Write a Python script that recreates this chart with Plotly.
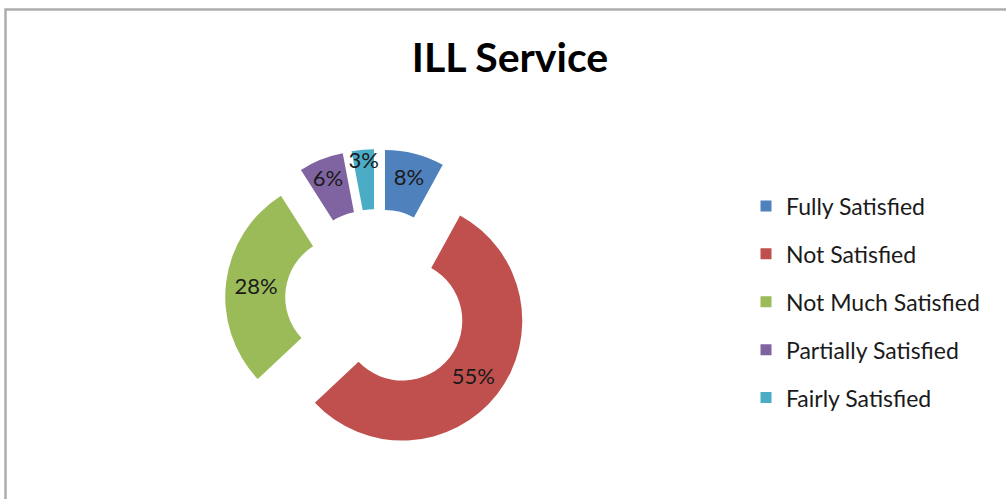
import plotly.graph_objects as go

categories = ["Fully Satisfied", "Not Satisfied", "Not Much Satisfied", "Partially Satisfied", "Fairly Satisfied"]
values = [8, 55, 28, 6, 3]
colors = ["#4F81BD", "#C0504D", "#9BBB59", "#8064A2", "#4BACC6"]
title_text = "ILL Service"

W, H = 1006, 499
FONT = "Lato, 'Open Sans', sans-serif"

fig = go.Figure()

fig.add_trace(go.Pie(
    labels=categories,
    values=values,
    marker=dict(colors=colors, line=dict(width=0)),
    hole=0.5,
    pull=[0.267] * len(values),
    sort=False,
    direction="clockwise",
    rotation=0,
    texttemplate="%{percent:.0%}",
    textposition="inside",
    insidetextorientation="horizontal",
    textfont=dict(family=FONT, size=22, color="#1a1a1a"),
    domain=dict(x=[225 / W, 529 / W], y=[46 / H, 350 / H]),
    showlegend=False,
    hoverinfo="label+percent",
))

for i, (name, col) in enumerate(zip(categories, colors)):
    fig.add_trace(go.Scatter(
        x=[None], y=[None], mode="markers", name=name,
        marker=dict(symbol="square", size=11, color=col),
        legendgroup=f"g{i}", showlegend=True,
    ))

fig.update_layout(
    width=W, height=H,
    margin=dict(l=0, r=0, t=0, b=0),
    paper_bgcolor="white",
    plot_bgcolor="white",
    title=dict(text=f"<b>{title_text}</b>", x=510 / W, xanchor="center",
               y=1 - 57.5 / H, yanchor="middle",
               font=dict(family=FONT, size=41, color="#000000")),
    xaxis=dict(visible=False),
    yaxis=dict(visible=False),
    legend=dict(x=746 / W, y=1 - 302 / H, xanchor="left", yanchor="middle",
                font=dict(family=FONT, size=23, color="#1a1a1a"),
                traceorder="grouped", tracegroupgap=15,
                bgcolor="rgba(0,0,0,0)"),
    uniformtext=dict(minsize=22, mode="show"),
    shapes=[dict(type="rect", xref="paper", yref="paper",
                 x0=5.5 / W, x1=1.02, y0=-0.05, y1=1 - 9.5 / H,
                 line=dict(color="#ADADAD", width=2.5), fillcolor="rgba(0,0,0,0)",
                 layer="below")],
)

fig.write_html("out.html", config={"displayModeBar": False},
               post_script="document.body.style.margin='0';")
